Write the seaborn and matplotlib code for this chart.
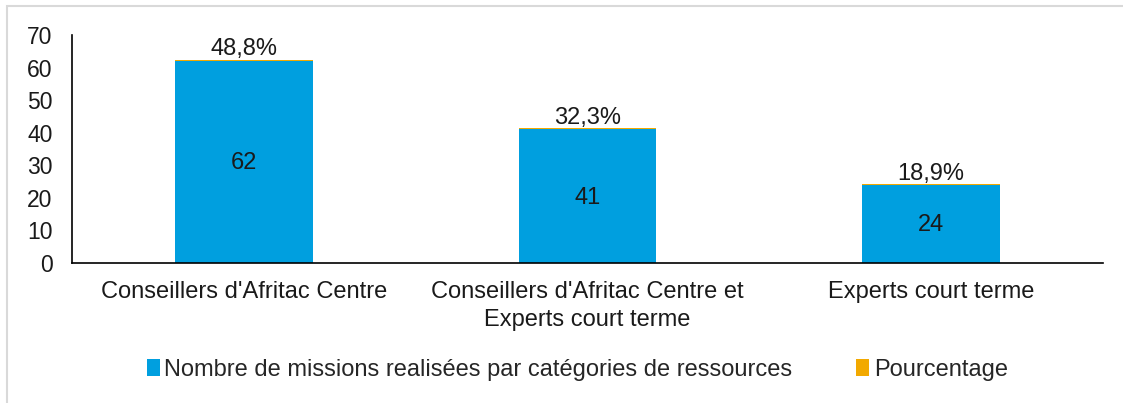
import matplotlib
matplotlib.use("Agg")
import matplotlib.pyplot as plt
import seaborn as sns
import pandas as pd
from matplotlib.patches import Patch, Rectangle

categories = ["Conseillers d'Afritac Centre",
              "Conseillers d'Afritac Centre et\nExperts court terme",
              "Experts court terme"]
missions = [62, 41, 24]
pourcentage = [0.488, 0.323, 0.189]
pct_labels = ["48,8%", "32,3%", "18,9%"]
series_names = ["Nombre de missions realisées par catégories de ressources", "Pourcentage"]

blue = "#009FDF"
orange = "#F2A900"
fs = 17

sns.set_theme(style="white")
plt.rcParams['font.family'] = ['Liberation Sans', 'DejaVu Sans']

df = pd.DataFrame({"cat": categories, "missions": missions,
                   "total": [m + p for m, p in zip(missions, pourcentage)]})

fig = plt.figure(figsize=(11.23, 4.03), dpi=100)
ax = fig.add_axes([0.0641, 0.3474, 0.9179, 0.5656])

sns.barplot(data=df, x="cat", y="total", color=orange, width=0.4, ax=ax,
            saturation=1, linewidth=0)
sns.barplot(data=df, x="cat", y="missions", color=blue, width=0.4, ax=ax,
            saturation=1, linewidth=0)

for i, (m, p, lab) in enumerate(zip(missions, pourcentage, pct_labels)):
    ax.text(i, m / 2 - 0.4, str(m), ha="center", va="center", fontsize=fs, color="#1a1a1a")
    ax.text(i, m + p - 0.1, lab, ha="center", va="bottom", fontsize=fs, color="#1a1a1a")

ax.set_ylim(0, 70)
ax.set_yticks(range(0, 71, 10))
ax.set_xlim(-0.5, 2.5)
ax.set_xlabel("")
ax.set_ylabel("")
ax.tick_params(axis="y", length=0, pad=14, labelsize=16.5, labelcolor="#1a1a1a")
ax.tick_params(axis="x", length=0, pad=13, labelsize=fs, labelcolor="#1a1a1a")
for lbl in ax.get_xticklabels():
    lbl.set_linespacing(1.35)
for s in ["top", "right"]:
    ax.spines[s].set_visible(False)
for s in ["left", "bottom"]:
    ax.spines[s].set_color("black")
    ax.spines[s].set_linewidth(1.2)

handles = [Patch(facecolor=blue, edgecolor="none"), Patch(facecolor=orange, edgecolor="none")]
fig.legend(handles, series_names, loc="center", bbox_to_anchor=(0.514, 0.082), ncol=2,
           frameon=False, fontsize=fs, handlelength=0.55, handleheight=0.7,
           handletextpad=0.2, columnspacing=2.7)

# chart frame (partially visible)
fig.patches.append(Rectangle((7 / 1123, -0.1), 1.2, 1.1 - 6 / 403, transform=fig.transFigure,
                             fill=False, edgecolor="#d9d9d9", linewidth=1.5))

fig.savefig("out.png", dpi=100)
